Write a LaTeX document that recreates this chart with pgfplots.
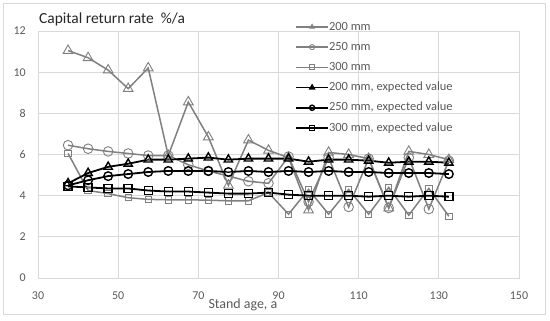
\documentclass[border=0pt]{standalone}
\usepackage{fontspec}
\setmainfont{Carlito}
\usepackage{pgfplots}
\usepackage{pgfplotstable}
\pgfplotsset{compat=1.18}
\definecolor{gridc}{RGB}{217,217,217}
\definecolor{txtc}{RGB}{89,89,89}
\definecolor{serg}{RGB}{128,128,128}
\pgfplotstableread{
x     a     b     c     ae    be    ce
37.5  11.05 6.45  6.05  4.60  4.50  4.45
42.5  10.70 6.28  4.25  5.10  4.75  4.40
47.5  10.10 6.15  4.10  5.40  4.95  4.35
52.5  9.20  6.05  3.90  5.55  5.05  4.35
57.5  10.20 5.95  3.82  5.75  5.15  4.25
62.5  5.95  5.95  3.80  5.75  5.20  4.20
67.5  8.55  5.50  3.80  5.80  5.20  4.20
72.5  6.85  5.20  3.78  5.85  5.20  4.15
77.5  4.50  4.95  3.75  5.75  5.15  4.10
82.5  6.70  4.70  3.75  5.80  5.20  4.10
87.5  6.20  4.60  4.15  5.80  5.15  4.15
92.5  5.85  5.90  3.10  5.80  5.20  4.05
97.5  3.30  3.70  4.30  5.65  5.15  4.00
102.5 6.10  5.85  3.10  5.75  5.20  4.00
107.5 6.00  3.45  4.30  5.75  5.15  4.00
112.5 5.80  5.80  3.10  5.70  5.15  3.95
117.5 3.40  3.40  4.40  5.60  5.10  4.00
122.5 6.15  5.85  3.05  5.65  5.10  3.95
127.5 6.00  3.35  4.35  5.65  5.10  4.00
132.5 5.75  5.70  3.00  5.60  5.05  3.95
}\datatable
\begin{document}
\begin{tikzpicture}
\useasboundingbox (-38bp,-43bp) rectangle (512bp,278bp);
\draw[gridc, line width=0.8bp] (-35bp,-36bp) rectangle (507bp,275bp);
\begin{axis}[
  at={(0,0)}, anchor=south west,
  scale only axis, width=481bp, height=247bp,
  xmin=30, xmax=150, ymin=0, ymax=12,
  xtick={30,50,...,150}, ytick={0,2,...,12},
  major tick length=0pt,
  grid=major,
  major grid style={gridc, line width=0.8bp},
  axis line style={gridc, line width=0.8bp},
  /pgf/number format/assume math mode=true,
  ticklabel style={font=\fontsize{12}{14}\selectfont, text=txtc},
  xticklabel style={anchor=north, inner sep=0pt, yshift=-14bp},
  yticklabel style={anchor=east, inner sep=0pt, xshift=-12bp},
  xlabel={Stand age, a},
  xlabel style={at={(axis description cs:0.426,0)}, anchor=base, yshift=-30bp, inner sep=0pt, font=\fontsize{14}{16}\selectfont, text=txtc},
  clip=false,
  legend style={draw=none, fill=none, at={(257bp,257bp)}, anchor=north west,
    font=\fontsize{12.5}{14}\selectfont, text=txtc, inner sep=0pt,
    nodes={inner sep=0pt, text height=9bp, text depth=2.5bp}, row sep=8.7bp, legend cell align=left},
  legend image code/.code={
    \draw[#1, mark=none] (0bp,0bp) -- (32bp,0bp);
    \draw[#1, mark size=2.6bp, only marks] plot coordinates {(16bp,0bp)};
  },
]
\addplot[serg, line width=1.5bp, mark=triangle, mark size=5.6bp, mark options={fill=white, line width=0.9bp, solid}] table[x=x,y=a] {\datatable};
\addlegendentry{200 mm}
\addplot[serg, line width=1.5bp, mark=o, mark size=4.8bp, mark options={fill=white, line width=0.9bp, solid}] table[x=x,y=b] {\datatable};
\addlegendentry{250 mm}
\addplot[serg, line width=1.5bp, mark=square, mark size=3.2bp, mark options={fill=white, line width=0.9bp, solid}] table[x=x,y=c] {\datatable};
\addlegendentry{300 mm}
\addplot[black, line width=1.8bp, mark=triangle, mark size=4.8bp, mark options={fill=white, line width=1.4bp, solid}] table[x=x,y=ae] {\datatable};
\addlegendentry{200 mm, expected value}
\addplot[black, line width=1.8bp, mark=o, mark size=4.3bp, mark options={fill=white, line width=1.4bp, solid}] table[x=x,y=be] {\datatable};
\addlegendentry{250 mm, expected value}
\addplot[black, line width=1.8bp, mark=square, mark size=4.0bp, mark options={fill=white, line width=1.4bp, solid}] table[x=x,y=ce] {\datatable};
\addlegendentry{300 mm, expected value}
\node[anchor=base west, inner sep=0pt, font=\fontsize{15.5}{18}\selectfont, text=black!85] at (axis description cs:0.002,1) [yshift=7.5bp] {Capital return rate\ \ \%/a};
\end{axis}
\end{tikzpicture}
\end{document}
